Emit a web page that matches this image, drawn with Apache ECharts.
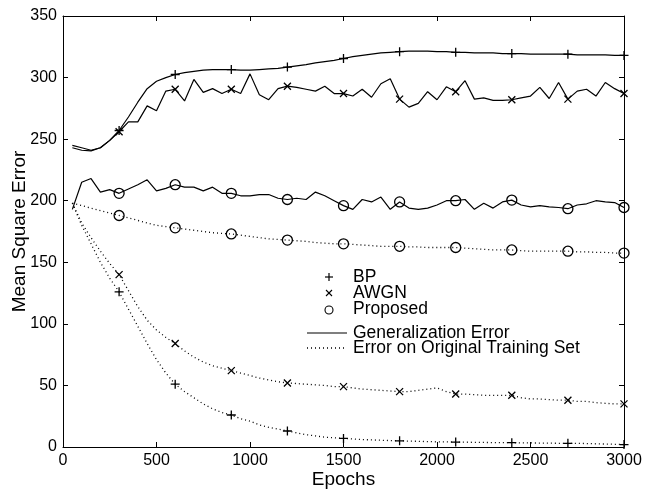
<!DOCTYPE html>
<html><head><meta charset="utf-8">
<script src="https://cdn.jsdelivr.net/npm/echarts@6/dist/echarts.min.js"></script>
<style>html,body{margin:0;padding:0;background:#fff}#c{width:645px;height:491px}</style>
</head><body><div id="c"></div>
<script>
const epochs = [];
for (let e = 50; e <= 3000; e += 50) epochs.push(e);
const xTicks = [0, 500, 1000, 1500, 2000, 2500, 3000];
const yTicks = [0, 50, 100, 150, 200, 250, 300, 350];

const bpGen = [245,243,241,243,249,257,268,280,291,297,300,302.5,304,305,306,306.5,306.5,306.5,306,306,306.5,307,307.5,308.5,309.5,310.5,312,313,314,315.5,317,318,319,320,320.5,321,321.5,321.5,321.5,321,321,320.5,320.5,320,320,320,319.5,319.5,319.5,319,319,319,319,319,318.5,318.5,318.5,318.5,318,318];
const awgnGen = [243,241,240.5,243,249,256,264,264,277,273,289,290.5,281,298.5,288,291,287,290.5,287,303,286,282,291,293,292,290.5,289,293,287,287,285,290.5,284,295,299,282.5,276,279,288.5,282,292.5,288.5,297.5,282.5,283.5,281.5,281.5,282,283.5,285,292,283,296,282.5,289,290.5,285,296,291,287];
const propGen = [193,215,218,207,209,206,209.5,213,217,208,210,213,211,211,208,211,206,206,204,204,205,205,202,201,202,201,207,204,200,196,193,201,199,203,193,199,194,193,194,196.5,200,200,201,193,198,194,199,200.5,196.5,195,196,195,194.5,193.5,196.5,197.5,200,199,198.5,194.5];
const bpTrain = [198,180,165,150,137,126,112,98,84,71,60,51,45,40,35,31,28,26,23,21,18,16,14.5,13,11.5,10,9,8,7.5,7,6.5,6,5.8,5.5,5.2,5,4.8,4.6,4.4,4.2,4.1,4,3.9,3.8,3.7,3.6,3.6,3.5,3.4,3.3,3.2,3.1,3,3,3,2.8,2.6,2.4,2.2,2];
const awgnTrain = [198,182,170,159,149,140,127,114,103,95,89,84,78,73,69,66,64,62,60,58,56,54.5,53,52,51.5,51,50.5,50,49,49,48,47,46.5,46,45.5,45,45,46,47,48,45,43,43,42.5,42,42,42,42,40,39,39,38.5,38,38,37,37,36,35.5,35,35];
const propTrain = [198,196,194,192,190,188,186,184,182,180,179,178,177,176,175,174,173.5,173,172,171,170,169,168.5,168,167.5,167,166,165.5,165,165,164.5,164,163.5,163,163,163,162.5,162.5,162,162,162,162,161.5,161,160.5,160,160,160,159.5,159,159,159,159,159,158.5,158.5,158,158,157.5,157.5];

const markerEvery = 300;
const FONT = '"Liberation Sans", Arial, Helvetica, sans-serif';
const PLUS = 'path://M5,0L5,10M0,5L10,5';
const CROSS = 'path://M0,0L10,10M10,0L0,10';

function mk(vals, sym) {
  return epochs.map((e, i) => ({ value: [e, vals[i]], symbol: e % markerEvery === 0 ? sym : 'none' }));
}
function series(name, vals, sym, size, dotted) {
  return {
    name, type: 'line', data: mk(vals, sym), showSymbol: true, showAllSymbol: true,
    symbolSize: size, silent: true,
    lineStyle: { color: '#000', width: dotted ? 1.3 : 1.2, type: dotted ? [1, 3] : 'solid' },
    itemStyle: { color: 'rgba(0,0,0,0)', borderColor: '#000', borderWidth: 1.3 },
    z: 3
  };
}

const chart = echarts.init(document.getElementById('c'), null, { renderer: 'canvas' });
function axisCommon() {
  return {
    axisLine: { show: true, onZero: false, lineStyle: { color: '#000', width: 1 } },
    axisTick: { show: true, inside: true, length: 5, lineStyle: { color: '#000' } },
    splitLine: { show: false }
  };
}
const fmt = v => String(v);
chart.setOption({
  animation: false,
  backgroundColor: '#fff',
  grid: { left: 63, right: 21, top: 16, bottom: 44, containLabel: false, outerBoundsMode: 'none' },
  xAxis: [
    Object.assign({ type: 'value', min: 0, max: 3000, interval: 500, position: 'bottom',
      name: 'Epochs', nameLocation: 'middle', nameGap: 23, nameMoveOverlap: false,
      nameTextStyle: { fontFamily: FONT, fontSize: 19, color: '#000' },
      axisLabel: { fontFamily: FONT, fontSize: 16, color: '#000', margin: 6, formatter: fmt } }, axisCommon()),
    Object.assign({ type: 'value', min: 0, max: 3000, interval: 500, position: 'top',
      axisLabel: { show: false } }, axisCommon())
  ],
  yAxis: [
    Object.assign({ type: 'value', min: 0, max: 350, interval: 50, position: 'left',
      name: 'Mean Square Error', nameLocation: 'middle', nameGap: 34, nameMoveOverlap: false,
      nameTextStyle: { fontFamily: FONT, fontSize: 19, color: '#000' },
      axisLabel: { fontFamily: FONT, fontSize: 16, color: '#000', margin: 6, formatter: fmt } }, axisCommon()),
    Object.assign({ type: 'value', min: 0, max: 350, interval: 50, position: 'right',
      axisLabel: { show: false } }, axisCommon())
  ],
  series: [
    series('BP generalization', bpGen, PLUS, 9, false),
    series('AWGN generalization', awgnGen, CROSS, 7, false),
    series('Proposed generalization', propGen, 'circle', 10, false),
    series('BP training', bpTrain, PLUS, 9, true),
    series('AWGN training', awgnTrain, CROSS, 7, true),
    series('Proposed training', propTrain, 'circle', 10, true)
  ],
  graphic: [
    { type: 'line', shape: { x1: 325, y1: 277, x2: 333, y2: 277 }, style: { stroke: '#000', lineWidth: 1.2 } },
    { type: 'line', shape: { x1: 329, y1: 273, x2: 329, y2: 281 }, style: { stroke: '#000', lineWidth: 1.2 } },
    { type: 'line', shape: { x1: 326, y1: 290, x2: 332, y2: 296 }, style: { stroke: '#000', lineWidth: 1.1 } },
    { type: 'line', shape: { x1: 332, y1: 290, x2: 326, y2: 296 }, style: { stroke: '#000', lineWidth: 1.1 } },
    { type: 'circle', shape: { cx: 329, cy: 310, r: 4 }, style: { stroke: '#000', lineWidth: 1.1, fill: 'rgba(0,0,0,0)' } },
    { type: 'line', shape: { x1: 307, y1: 333, x2: 347, y2: 333 }, style: { stroke: '#000', lineWidth: 1.2 } },
    { type: 'line', shape: { x1: 307, y1: 348, x2: 347, y2: 348 }, style: { stroke: '#000', lineWidth: 1.3, lineDash: [1, 3] } },
    { type: 'text', left: 353, top: 268, style: { text: 'BP', font: '17.5px ' + FONT, fill: '#000' } },
    { type: 'text', left: 353, top: 284, style: { text: 'AWGN', font: '17.5px ' + FONT, fill: '#000' } },
    { type: 'text', left: 353, top: 300, style: { text: 'Proposed', font: '17.5px ' + FONT, fill: '#000' } },
    { type: 'text', left: 353, top: 324, style: { text: 'Generalization Error', font: '17.5px ' + FONT, fill: '#000' } },
    { type: 'text', left: 353, top: 339, style: { text: 'Error on Original Training Set', font: '17.5px ' + FONT, fill: '#000' } }
  ]
});
</script></body></html>
